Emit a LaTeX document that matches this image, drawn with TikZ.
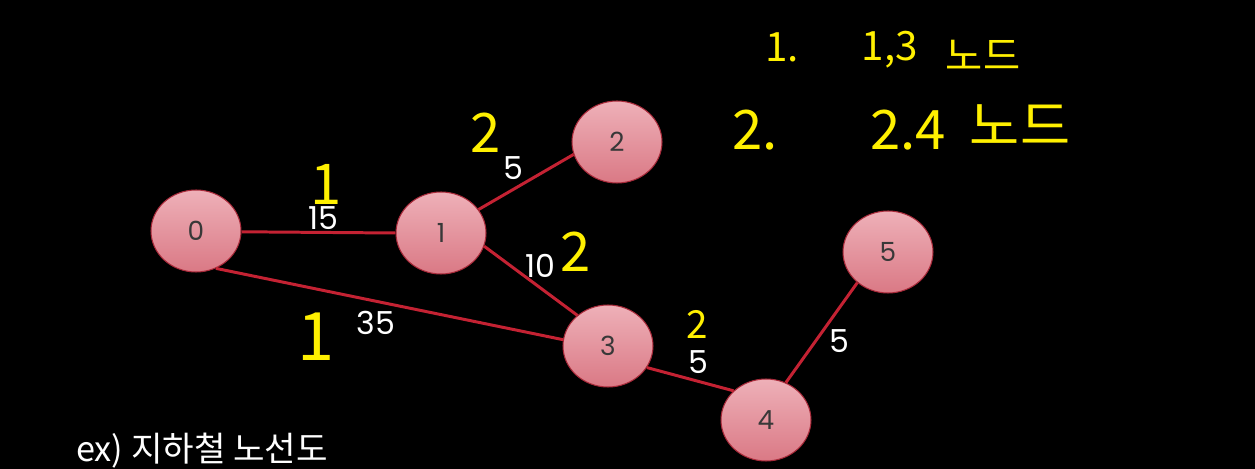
\documentclass[tikz,border=0pt]{standalone}
\usepackage{fontspec}
\setmainfont{Poppins}
\newfontfamily\kor{Noto Sans CJK KR}
\usetikzlibrary{shapes.geometric}
\definecolor{nodetop}{HTML}{EEB0B8}
\definecolor{nodebot}{HTML}{DA7985}
\definecolor{nodeline}{HTML}{A82A3A}
\definecolor{trackred}{HTML}{C42233}
\definecolor{penyellow}{HTML}{FFF000}
\definecolor{numgray}{HTML}{383838}

\begin{document}
\begin{tikzpicture}[x=0.02cm, y=-0.02cm,
    station/.style={ellipse, minimum width=1.8cm, minimum height=1.64cm,
      top color=nodetop, bottom color=nodebot, draw=nodeline, line width=0.6pt,
      text=numgray, font=\fontsize{15}{15}\selectfont},
    track/.style={trackred, line width=1.7pt},
    cost/.style={text=white, font=\fontsize{18}{18}\selectfont},
    pen/.style={text=penyellow, inner sep=0pt, font=\kor\fontsize{#1}{#1}\selectfont},
    pen/.default=31]
  \fill[black] (0,0) rectangle (1255,469);
  \useasboundingbox (0,0) rectangle (1255,469);

  % stations
  \foreach \n/\x/\y in {0/196/231, 1/441/233, 2/617/142, 3/608/346, 4/766/420, 5/888/252}
    \node[station] (n\n) at (\x,\y) {\n};

  % lines
  \draw[track] (n0.-1) -- (n1.180);
  \draw[track] (n0.-62) -- (n3.172);
  \draw[track] (n1.32) -- (n2.-164);
  \draw[track] (n1.-17) -- (n3.135);
  \draw[track] (n3.-29) -- (n4.138);
  \draw[track] (n4.62) -- (n5.-135);

  % weights
  \node[cost] (w01) at (323,218) {15};
  \node[cost] (w12) at (513,168) {5};
  \node[cost] (w13) at (540,266) {10};
  \node[cost] (w03) at (376,323) {35};
  \node[cost] (w34) at (698,362) {5};
  \node[cost] (w45) at (839,341) {5};

  % handwritten notes
  \node[pen=32] (h01) at (326,184) {1};
  \node[pen] (h12) at (486,133) {2};
  \node[pen] (h13) at (576,252) {2};
  \node[pen=38] (h03) at (316,337) {1};
  \node[pen=22] (h34) at (697,324) {2};
  \node[pen=23] (r1a) at (782,47) {1.};
  \node[pen=23] (r1b) at (890,50) {1,3};
  \node[pen=23] (r1c) at (983,55) {노드};
  \node[pen] (r2a) at (755,130) {2.};
  \node[pen] (r2b) at (908,130) {2.4};
  \node[pen=31] (r2c) at (1020,125) {노드};

  \node[anchor=west, text=white, font=\kor\fontsize{19.5}{19.5}\selectfont] (title)
    at (70,451) {ex) 지하철 노선도};
\end{tikzpicture}
\end{document}
